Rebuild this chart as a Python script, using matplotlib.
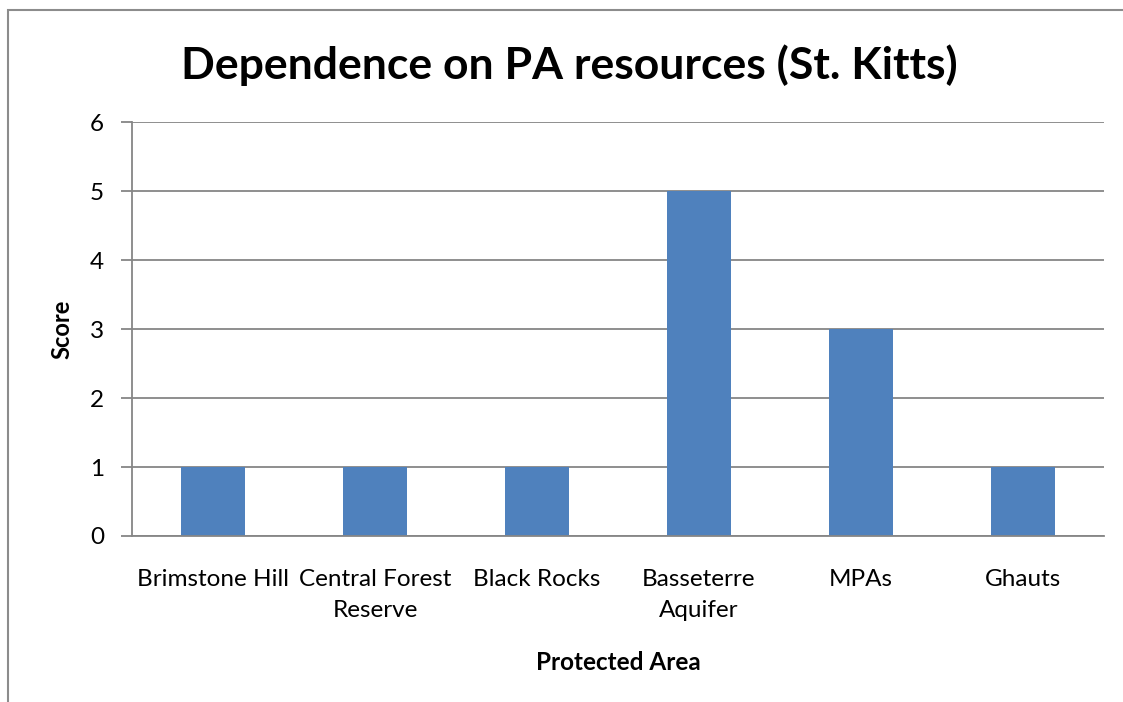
import matplotlib.pyplot as plt
import matplotlib.patches as mpatches
import numpy as np

plt.rcParams['font.family'] = ['Lato', 'DejaVu Sans']

# data
areas = ["Brimstone Hill", "Central Forest\nReserve", "Black Rocks",
         "Basseterre\nAquifer", "MPAs", "Ghauts"]
scores = [1, 1, 1, 5, 3, 1]

BAR_COLOR = "#4F81BD"
GRID_COLOR = "#868686"

fig = plt.figure(figsize=(11.23, 7.02), dpi=100)
ax = fig.add_axes([0.1175, 0.2365, 0.8655, 0.5895])

x = np.arange(len(areas))
ax.bar(x, scores, width=0.4, color=BAR_COLOR, zorder=2)

ax.set_xlim(-0.5, len(areas) - 0.5)
ax.set_ylim(0, 6)
ax.set_yticks(range(0, 7))
ax.yaxis.grid(True, color=GRID_COLOR, linewidth=1.3, zorder=1)
ax.set_axisbelow(True)

ax.set_xticks(x)
ax.set_xticklabels(areas, fontsize=17.5, linespacing=1.55)
ax.tick_params(axis='x', length=0, pad=24)
ax.tick_params(axis='y', labelsize=17.5, length=8, width=1.3, color=GRID_COLOR, pad=12)

for side in ["top", "right"]:
    ax.spines[side].set_visible(False)
for side in ["left", "bottom"]:
    ax.spines[side].set_color(GRID_COLOR)
    ax.spines[side].set_linewidth(1.3)

ax.set_ylabel("Score", fontsize=17, fontweight="bold", labelpad=12)
ax.set_xlabel("Protected Area", fontsize=17.5, fontweight="bold", labelpad=22)

fig.text(0.507, 0.907, "Dependence on PA resources (St. Kitts)",
         ha="center", va="center", fontsize=32, fontweight="bold")

# chart border (cropped at right and bottom)
border = mpatches.Rectangle((8 / 1123, -0.01), 1.1, 1 - 10 / 702 + 0.01,
                            transform=fig.transFigure, fill=False,
                            edgecolor="#8C8C8C", linewidth=1.5)
fig.patches.append(border)

fig.savefig("out.png", dpi=100)
